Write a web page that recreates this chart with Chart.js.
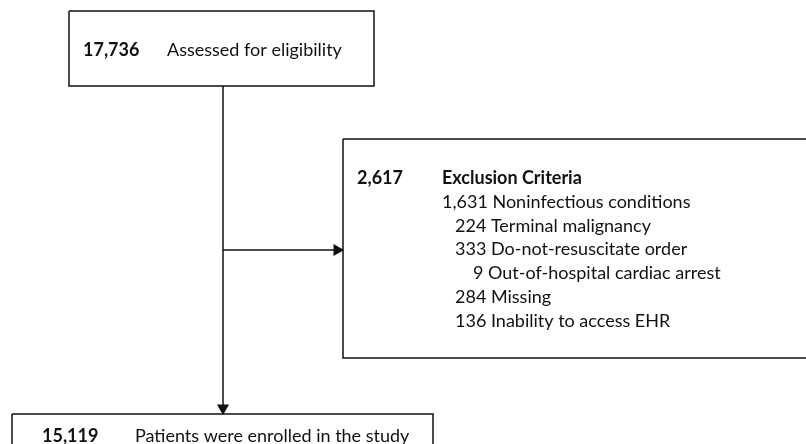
<!DOCTYPE html>
<html>
<head>
<meta charset="utf-8">
<script src="https://cdn.jsdelivr.net/npm/chart.js@4"></script>
<style>
  html, body { margin: 0; padding: 0; background: #fff; overflow: hidden; }
  #wrap { width: 806px; height: 444px; position: relative; }
</style>
</head>
<body>
<div id="wrap"><canvas id="flowChart"></canvas></div>
<script>
// flow steps
const stepLabels = ['Assessed for eligibility', 'Exclusion Criteria', 'Patients were enrolled in the study'];
const stepCounts = [17736, 2617, 15119];

// exclusion breakdown (level = indent in the list)
const exclusionReasons = [
    'Noninfectious conditions',
    'Terminal malignancy',
    'Do-not-resuscitate order',
    'Out-of-hospital cardiac arrest',
    'Missing',
    'Inability to access EHR'
];
const exclusionCounts = [1631, 224, 333, 9, 284, 136];
const exclusionLevel = [0, 1, 1, 2, 1, 1];

const fmt = (n) => n.toLocaleString('en-US');
const FONT = 'Lato, "Open Sans", sans-serif';
const INK = '#111';

// box outlines, in page units (x 0..806, y 0..444 from top)
function rect(x1, y1, x2, y2) {
    return [{ x: x1, y: y1 }, { x: x2, y: y1 }, { x: x2, y: y2 }, { x: x1, y: y2 }, { x: x1, y: y1 }];
}

function boxSet(points) {
    return {
        data: points, showLine: true, borderColor: INK, borderWidth: 1.5,
        pointRadius: 0, fill: false, tension: 0
    };
}

function arrowSet(points, rotation) {
    return {
        data: points, showLine: true, borderColor: INK, borderWidth: 1.5,
        backgroundColor: INK, pointStyle: 'triangle', rotation: rotation,
        pointRadius: points.map((p, i) => i === points.length - 1 ? 5.5 : 0),
        pointHoverRadius: 0, fill: false
    };
}

const datasets = [
    boxSet(rect(69, 11, 374, 86)),
    boxSet(rect(343, 139, 830, 358)),
    boxSet(rect(12, 414, 433, 470)),
    arrowSet([{ x: 223, y: 86 }, { x: 223, y: 408 }], 180),
    arrowSet([{ x: 223, y: 250 }, { x: 337, y: 250 }], 90)
];

// writes the step texts through the same scales
const textPlugin = {
    id: 'flowText',
    afterDatasetsDraw(chart) {
        const ctx = chart.ctx;
        const sx = (v) => chart.scales.x.getPixelForValue(v);
        const sy = (v) => chart.scales.y.getPixelForValue(v);
        ctx.save();
        ctx.fillStyle = INK;
        ctx.textBaseline = 'alphabetic';
        ctx.textAlign = 'left';

        const bold = 'bold 18px ' + FONT;
        const reg = '18px ' + FONT;

        // top box
        ctx.font = bold;
        ctx.fillText(fmt(stepCounts[0]), sx(83), sy(56));
        ctx.font = reg;
        ctx.fillText(stepLabels[0], sx(167), sy(56));

        // exclusion box
        ctx.font = bold;
        ctx.fillText(fmt(stepCounts[1]), sx(357), sy(184.3));
        ctx.fillText(stepLabels[1], sx(442), sy(184.3));
        ctx.font = reg;
        const indent = [442, 455, 473];
        exclusionReasons.forEach((r, i) => {
            const y = 208 + i * 23.7;
            ctx.fillText(fmt(exclusionCounts[i]) + ' ' + r, sx(indent[exclusionLevel[i]]), sy(y));
        });

        // bottom box
        ctx.font = bold;
        ctx.fillText(fmt(stepCounts[2]), sx(42), sy(442));
        ctx.font = reg;
        ctx.fillText(stepLabels[2], sx(135), sy(442));
        ctx.restore();
    }
};

new Chart(document.getElementById('flowChart'), {
    type: 'scatter',
    data: { datasets },
    options: {
        responsive: true,
        maintainAspectRatio: false,
        animation: false,
        layout: { padding: 0, autoPadding: false },
        plugins: { legend: { display: false }, tooltip: { enabled: false } },
        events: [],
        scales: {
            x: { type: 'linear', min: 0, max: 806, display: false },
            y: { type: 'linear', min: 0, max: 444, reverse: true, display: false }
        }
    },
    plugins: [textPlugin]
});
</script>
</body>
</html>
